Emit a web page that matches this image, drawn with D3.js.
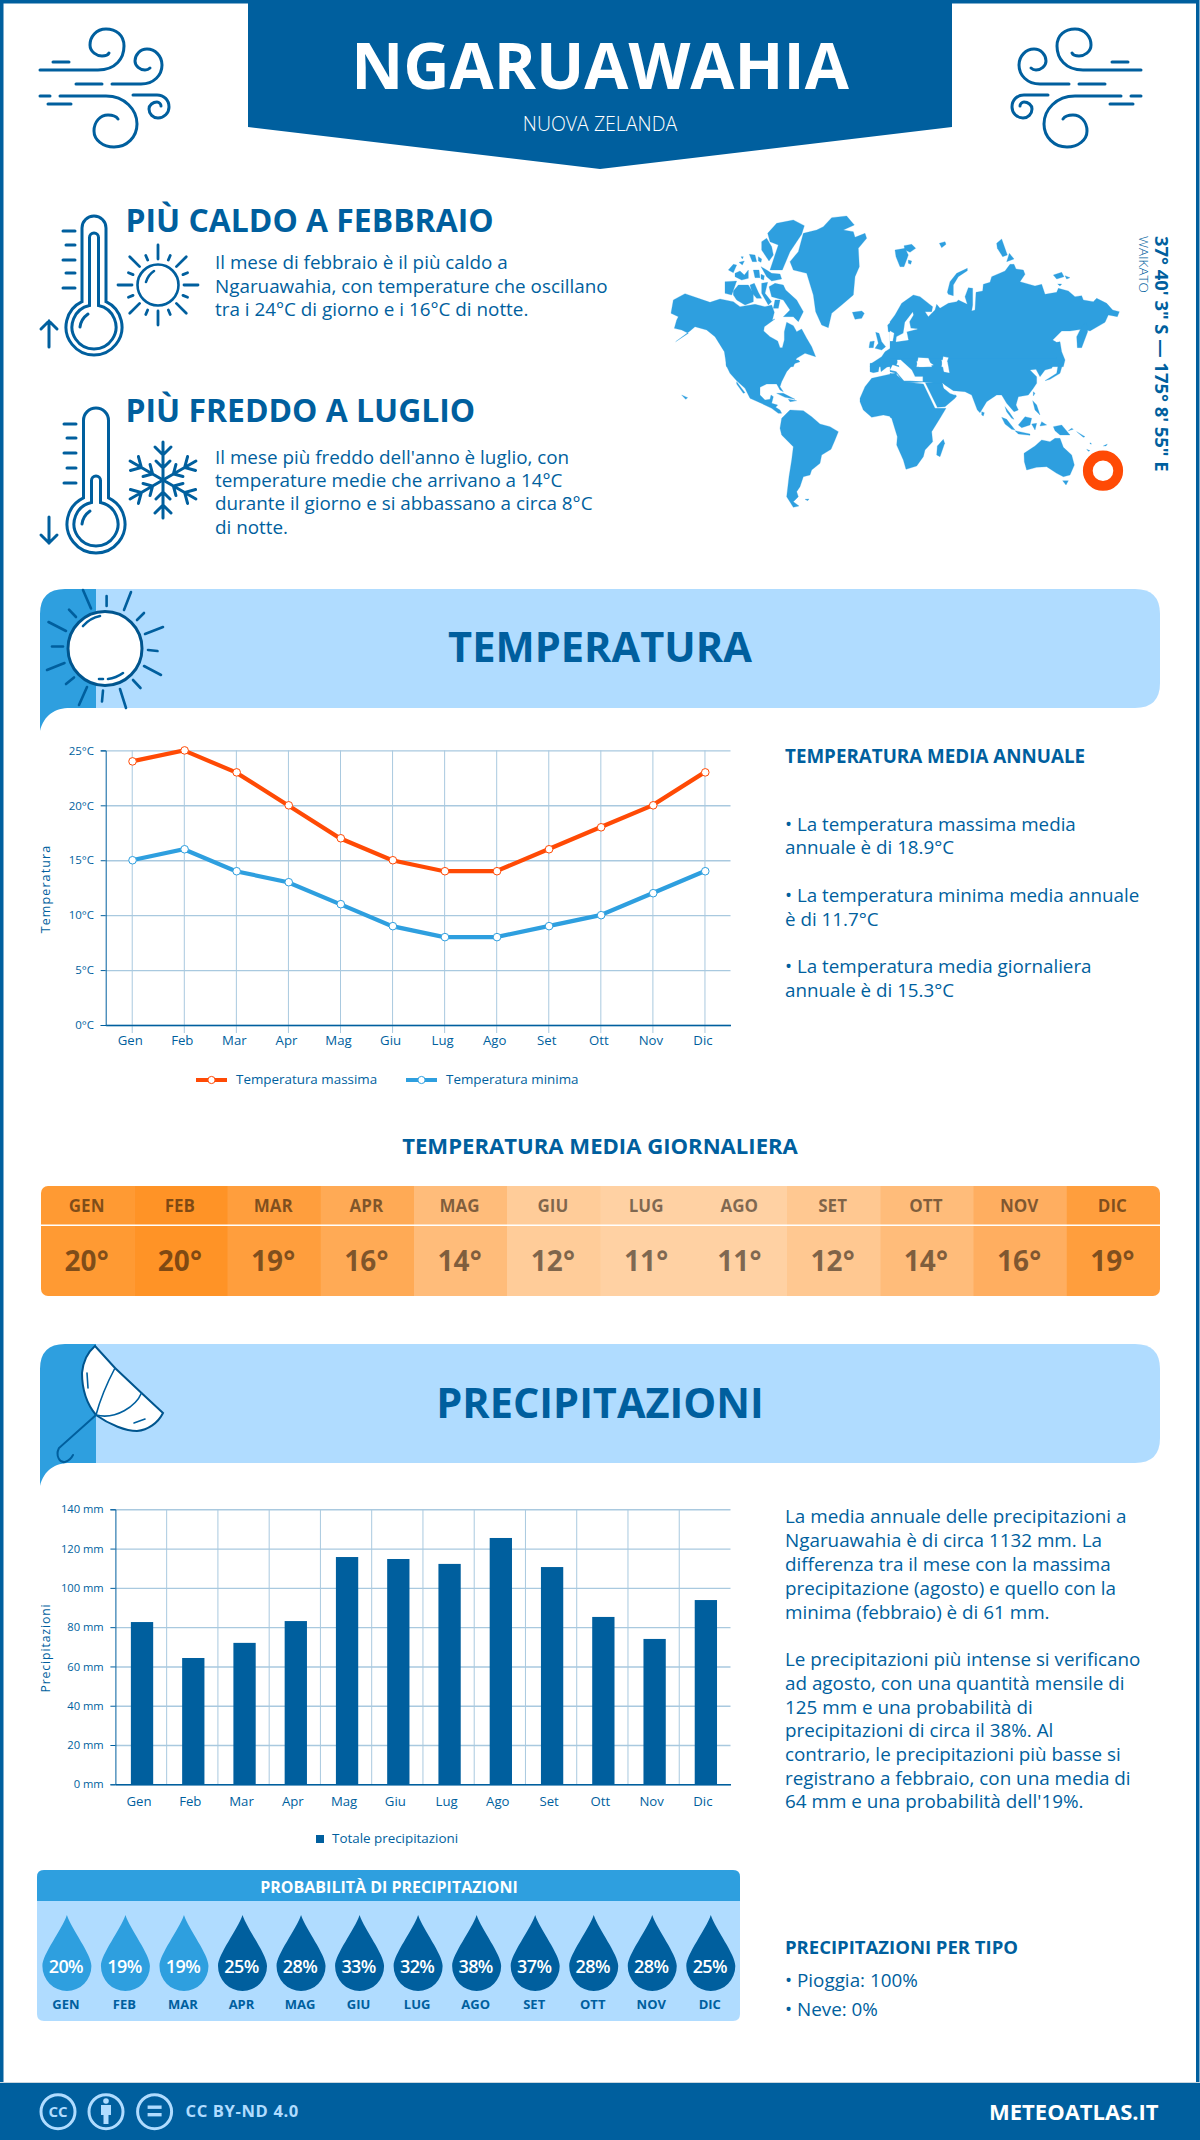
<!DOCTYPE html>
<html>
<head>
<meta charset="utf-8">
<title>Ngaruawahia</title>
<script src="https://cdn.jsdelivr.net/npm/d3@7"></script>
<style>
  html, body { margin: 0; padding: 0; background: #fff; }
  svg { display: block; }
  text { font-family: "Open Sans", sans-serif; }
</style>
</head>
<body>
<div id="chart"></div>
<script>
// chart values
var months = ["Gen", "Feb", "Mar", "Apr", "Mag", "Giu", "Lug", "Ago", "Set", "Ott", "Nov", "Dic"];
var monthsUpper = ["GEN", "FEB", "MAR", "APR", "MAG", "GIU", "LUG", "AGO", "SET", "OTT", "NOV", "DIC"];
var tempMax = [24, 25, 23, 20, 17, 15, 14, 14, 16, 18, 20, 23];
var tempMin = [15, 16, 14, 13, 11, 9, 8, 8, 9, 10, 12, 14];
var tempDaily = [20, 20, 19, 16, 14, 12, 11, 11, 12, 14, 16, 19];
var tempTicks = [0, 5, 10, 15, 20, 25];
var rain = [82.6, 64.3, 72, 83.1, 115.7, 114.7, 112.2, 125.4, 110.6, 85.2, 74, 93.8];
var rainTicks = [0, 20, 40, 60, 80, 100, 120, 140];
var rainProb = [20, 19, 19, 25, 28, 33, 32, 38, 37, 28, 28, 25];

// text blocks
var hotLines = ["Il mese di febbraio è il più caldo a", "Ngaruawahia, con temperature che oscillano", "tra i 24°C di giorno e i 16°C di notte."];
var coldLines = ["Il mese più freddo dell'anno è luglio, con", "temperature medie che arrivano a 14°C", "durante il giorno e si abbassano a circa 8°C", "di notte."];
var tempNotes = ["• La temperatura massima media", "annuale è di 18.9°C", "• La temperatura minima media annuale", "è di 11.7°C", "• La temperatura media giornaliera", "annuale è di 15.3°C"];
var rainNotes = ["La media annuale delle precipitazioni a", "Ngaruawahia è di circa 1132 mm. La", "differenza tra il mese con la massima", "precipitazione (agosto) e quello con la", "minima (febbraio) è di 61 mm.", "Le precipitazioni più intense si verificano", "ad agosto, con una quantità mensile di", "125 mm e una probabilità di", "precipitazioni di circa il 38%. Al", "contrario, le precipitazioni più basse si", "registrano a febbraio, con una media di", "64 mm e una probabilità dell'19%."];

// world map outlines in 4 pieces (3 units = 1px)
var mapNW = [
  [[18,325],[25,285],[60,266],[100,280],[135,292],[165,282],[205,290],[225,305],[270,298],[300,305],[320,300],[328,322],[322,345],[330,342],[298,365],[296,378],[315,395],[338,408],[345,428],[352,428],[358,405],[358,380],[365,352],[385,362],[395,380],[410,372],[425,400],[440,425],[452,455],[420,445],[395,460],[385,485],[185,485],[178,440],[150,395],[125,375],[90,365],[75,378],[32,410],[70,385],[50,375],[28,370],[35,345],[40,335]],
  [[475,65],[500,38],[545,33],[568,60],[535,75],[565,80],[570,97],[600,85],[605,100],[580,130],[583,185],[570,215],[565,270],[530,300],[500,325],[490,368],[470,360],[452,320],[445,270],[425,205],[385,195],[375,170],[400,140],[415,85],[455,75]],
  [[308,85],[335,55],[385,45],[418,62],[410,88],[375,140],[352,195],[315,195],[330,150],[340,120],[315,110]],
  [[305,100],[320,125],[325,150],[312,168],[290,135],[290,110]],
  [[190,195],[205,178],[215,180],[205,203]], [[222,172],[238,168],[232,180]], [[228,155],[235,155],[232,162]],
  [[253,148],[270,150],[275,170],[262,170]], [[280,155],[290,162],[288,172],[280,168]],
  [[210,205],[225,198],[238,210],[250,195],[250,220],[230,225],[210,215]],
  [[265,195],[282,195],[285,218],[270,218]], [[288,208],[298,212],[296,225],[288,222]],
  [[288,185],[305,195],[320,205],[345,207],[350,222],[320,228],[305,215]],
  [[180,230],[215,228],[200,270],[180,265]],
  [[205,258],[220,240],[250,240],[265,265],[265,290],[240,300],[215,285],[205,270]],
  [[255,240],[268,235],[280,262],[290,280],[275,280],[262,265]],
  [[290,235],[308,232],[300,265],[320,290],[310,300],[290,265]],
  [[312,245],[330,235],[355,240],[362,255],[395,285],[415,320],[400,350],[385,335],[355,335],[375,315],[355,285],[320,275]],
  [[330,285],[345,285],[340,310],[325,310]],
  [[562,322],[590,318],[598,325],[590,340],[570,343]],
  [[632,382],[642,385],[650,410],[662,425],[650,435],[630,430],[640,415]],
  [[615,410],[628,408],[625,428],[612,428]],
  [[668,360],[695,335],[695,385],[670,380]],
  [[695,418],[660,440],[650,455],[620,475],[615,485],[695,485]]
];
var mapSW = [
  [[183,0],[400,0],[405,5],[385,12],[365,35],[350,65],[345,80],[355,95],[345,90],[335,72],[305,72],[285,82],[285,105],[300,120],[315,118],[318,105],[325,110],[320,130],[338,135],[332,142],[345,150],[350,160],[340,160],[320,145],[285,128],[255,115],[240,85],[215,62],[195,40],[183,15]],
  [[215,65],[240,98],[235,100],[215,72]],
  [[335,100],[355,100],[390,118],[360,112]], [[370,118],[395,122],[375,125]],
  [[350,175],[375,150],[415,152],[440,170],[465,192],[495,200],[520,215],[510,240],[498,268],[470,285],[465,310],[440,330],[435,345],[415,350],[405,380],[395,395],[400,410],[385,425],[402,438],[385,442],[365,410],[372,350],[380,300],[385,260],[350,225],[345,205]],
  [[420,418],[432,417],[428,422]],
  [[585,115],[600,80],[620,55],[695,38],[695,205],[680,170],[655,165],[620,172],[595,150],[585,125]],
  [[615,10],[645,8],[640,35],[625,38],[615,35]],
  [[645,8],[695,0],[695,8],[665,22],[648,35]],
  [[50,105],[68,113],[62,118]]
];
var mapNE = [
  [[0,485],[0,350],[15,330],[35,295],[70,270],[90,275],[128,305],[125,320],[105,320],[115,335],[135,315],[140,298],[150,310],[175,295],[200,290],[205,285],[232,298],[225,275],[235,248],[248,250],[248,300],[245,318],[255,315],[258,262],[278,258],[280,238],[300,232],[305,215],[345,198],[360,178],[372,178],[378,192],[400,195],[405,208],[390,230],[435,243],[455,238],[465,268],[500,262],[505,250],[535,258],[555,275],[575,272],[580,285],[610,290],[620,280],[650,295],[668,315],[688,320],[682,335],[655,330],[645,352],[600,378],[580,372],[540,378],[515,378],[488,405],[500,412],[510,410],[515,440],[525,465],[520,485]],
  [[590,352],[593,380],[575,428],[562,428],[560,395],[575,365]],
  [[15,135],[45,130],[55,150],[42,185],[30,185],[18,155]], [[42,122],[65,118],[77,130],[60,142],[45,135]], [[55,165],[65,168],[62,178],[55,175]],
  [[148,115],[165,110],[168,118],[155,128]],
  [[172,262],[180,230],[200,205],[232,190],[232,197],[205,215],[190,240],[190,272],[175,268]],
  [[320,115],[335,102],[352,150],[338,155],[322,130]], [[358,145],[372,162],[350,170]],
  [[490,210],[515,202],[522,215],[500,222]], [[525,212],[540,218],[530,222]], [[503,237],[515,237],[510,243]]
];
var mapSE = [
  [[0,-5],[500,-5],[485,25],[465,30],[450,50],[438,28],[420,30],[440,50],[440,70],[430,85],[415,105],[385,110],[378,135],[385,150],[372,155],[350,130],[335,105],[320,105],[290,125],[270,158],[262,150],[245,105],[225,95],[190,92],[160,72],[100,66],[60,68],[42,68],[20,40],[0,35]],
  [[0,40],[20,45],[45,66],[100,72],[135,145],[168,145],[150,175],[125,215],[128,245],[105,270],[100,290],[80,318],[48,328],[40,300],[20,255],[22,230],[5,175],[0,172]],
  [[106,68],[142,142],[165,140],[195,115],[200,108],[190,100],[162,85],[158,68]],
  [[160,238],[164,250],[150,290],[140,285],[142,258]],
  [[402,280],[435,258],[455,240],[480,245],[495,235],[510,235],[520,262],[545,285],[553,315],[540,345],[520,350],[500,340],[470,320],[440,322],[410,330],[403,305]],
  [[518,362],[535,362],[528,375]], [[275,155],[283,158],[280,168],[275,165]],
  [[335,172],[350,178],[375,210],[365,208],[345,192]], [[375,212],[420,222],[420,226],[385,222]],
  [[385,195],[405,170],[425,175],[420,195],[395,203]], [[425,192],[440,190],[435,210]],
  [[490,200],[515,195],[540,225],[510,225],[495,212]], [[428,122],[440,135],[450,165],[435,150]],
  [[345,140],[360,160],[372,178],[365,175],[350,155]],
  [[465,62],[500,40],[505,12],[520,5],[510,40],[480,58]], [[430,95],[435,100],[430,108]],
  [[455,185],[470,195],[450,198]], [[545,205],[550,208],[535,212]], [[560,215],[585,230],[580,232]],
  [[600,248],[605,252],[600,252]], [[590,268],[600,272],[595,274]], [[640,258],[652,252],[648,258]]
];
// inland water painted white on top of the land
var mapNEsea = [
  [[68,322],[45,352],[40,385],[20,395],[18,410],[55,405],[50,380],[82,372],[62,370],[58,350],[70,330]],
  [[0,378],[12,385],[8,408],[0,408]],
  [[25,465],[40,480],[20,480]], [[85,458],[115,460],[125,485],[80,485]], [[160,455],[175,458],[165,485],[155,485]]
];
var mapSEsea = [
  [[0,30],[18,34],[42,62],[60,62],[98,64],[98,50],[75,50],[65,30],[32,0],[22,0],[28,22],[8,15]],
  [[80,5],[108,0],[130,15],[100,20],[88,20]],
  [[155,0],[172,5],[178,38],[162,35]],
  [[158,70],[170,85],[190,95],[195,105],[180,100],[162,85]]
];

var DARK = "#005f9e", MID = "#2e9fdf", PALE = "#b0dcff", RED = "#ff4a05", GRID = "#a9c9df";

var svg = d3.select("#chart").append("svg").attr("width", 1200).attr("height", 2140);
svg.append("rect").attr("width", 1200).attr("height", 2140).attr("fill", "#fff");

function label(parent, str, x, y, size, weight, color, anchor, spacing) {
  return parent.append("text")
    .attr("x", x).attr("y", y)
    .attr("font-size", size).attr("font-weight", weight || 400)
    .attr("fill", color || DARK)
    .attr("text-anchor", anchor || "start")
    .attr("letter-spacing", spacing || 0)
    .text(str);
}

function stroke(parent, d, w) {
  return parent.append("path").attr("d", d).attr("fill", "none")
    .attr("stroke", DARK).attr("stroke-width", w || 3).attr("stroke-linecap", "round");
}

// frame + header
svg.append("rect").attr("x", 1.75).attr("y", 1.75).attr("width", 1196).attr("height", 2136)
  .attr("fill", "none").attr("stroke", DARK).attr("stroke-width", 3.5);
svg.append("path").attr("d", "M248,0 H952 V127 L600,169 L248,127 Z").attr("fill", DARK);
label(svg, "NGARUAWAHIA", 600, 89, 64, 700, "#fff", "middle");
label(svg, "NUOVA ZELANDA", 600, 131, 19.5, 300, "#fff", "middle");

// wind icons, right one is the left one mirrored
function wind(g) {
  stroke(g, "M40,70 H98 C116,70 124,58 124,46 C124,35 116,29 106,29 C96,29 90,37 90,45 C90,52 97,56 102,56 C105,56 108,55 109,53");
  stroke(g, "M53,62 H69");
  stroke(g, "M112,84 H141 C154,84 162,75 162,65 C162,56 155,49 147,49 C140,49 135,55 135,61 C135,66 140,70 145,70 C147,70 149,69 150,68");
  stroke(g, "M76,84 H102");
  stroke(g, "M40,96 H50 M60,96 H106 C125,96 137,110 137,124 C137,137 127,147 114,147 C103,147 94,140 94,131 C94,122 100,115 108,115 C112,115 116,116 118,119");
  stroke(g, "M48,104 H71");
  stroke(g, "M133,95 H157 C164,95 169,100 169,107 C169,113 164,118 158,118 C153,118 149,114 149,109 C149,105 153,102 157,102 C159,102 161,104 161,106");
}
wind(svg.append("g"));
wind(svg.append("g").attr("transform", "translate(1181,0) scale(-1,1)"));

// thermometers
function thermo(g, cx, top, cy, R, hw, innerR, innerHw, innerTop) {
  var j = cy - Math.sqrt(R * R - hw * hw), k = cy - Math.sqrt(innerR * innerR - innerHw * innerHw);
  stroke(g, "M" + (cx - hw) + "," + j + " V" + (top + hw) + " A" + hw + "," + hw + " 0 0 1 " + (cx + hw) + "," + (top + hw) +
    " V" + j + " A" + R + "," + R + " 0 1 1 " + (cx - hw) + "," + j + " Z");
  stroke(g, "M" + (cx - innerHw) + "," + k + " V" + (innerTop + innerHw) + " A" + innerHw + "," + innerHw + " 0 0 1 " + (cx + innerHw) + "," + (innerTop + innerHw) +
    " V" + k + " A" + innerR + "," + innerR + " 0 1 1 " + (cx - innerHw) + "," + k + " Z");
  stroke(g, "M" + (cx - 14) + "," + cy + " Q" + (cx - 13) + "," + (cy - 8) + " " + (cx - 6) + "," + (cy - 13));
}
thermo(svg.append("g"), 94, 216, 327, 28, 12, 22, 4.5, 233);
[231, 245, 260, 273, 288].forEach(function(y, i) { stroke(svg, "M" + (i % 2 ? 66 : 63) + "," + y + " H75"); });
stroke(svg, "M49,347 V321 M41,329 L49,321 L57,329");
thermo(svg.append("g"), 96, 408, 524, 29, 12.5, 22, 4.5, 476);
[424, 438, 453, 468, 483].forEach(function(y, i) { stroke(svg, "M" + (i % 2 ? 67 : 64) + "," + y + " H76"); });
stroke(svg, "M49,517 V543 M41,535 L49,543 L57,535");

// small sun next to first thermometer
var smallSun = svg.append("g").attr("transform", "translate(158,285)");
smallSun.append("circle").attr("r", 20.5).attr("fill", "none").attr("stroke", DARK).attr("stroke-width", 2.6);
stroke(smallSun, "M-12,-3 Q-10,-10 -4,-14", 2.6);
d3.range(0, 360, 22.5).forEach(function(a) {
  var major = a % 45 === 0;
  var r0 = major ? 26 : 27, r1 = major ? 40 : 32;
  var t = a * Math.PI / 180;
  stroke(smallSun, "M" + r0 * Math.cos(t) + "," + r0 * Math.sin(t) + " L" + r1 * Math.cos(t) + "," + r1 * Math.sin(t), 2.8);
});

// snowflake
var flake = svg.append("g").attr("transform", "translate(163,480)");
d3.range(0, 360, 60).forEach(function(a) {
  var arm = flake.append("g").attr("transform", "rotate(" + a + ")");
  stroke(arm, "M0,0 V-38 M-8,-33 L0,-25 L8,-33 M-7,-19 L0,-12 L7,-19", 3);
});

label(svg, "PIÙ CALDO A FEBBRAIO", 125.5, 232, 31.9, 700);
hotLines.forEach(function(s, i) { label(svg, s, 215, [269, 293, 316][i], 18.85); });
label(svg, "PIÙ FREDDO A LUGLIO", 125.5, 422, 31.9, 700);
coldLines.forEach(function(s, i) { label(svg, s, 215, [464, 487, 510, 534][i], 18.85); });

// world map
var mapLine = d3.line().curve(d3.curveLinear);
function mapPiece(x0, y0, polys, fill) {
  svg.append("g").attr("transform", "translate(" + x0 + "," + y0 + ") scale(" + (1 / 3) + ")")
    .selectAll("path").data(polys).enter().append("path")
    .attr("d", function(d) { return mapLine(d) + "Z"; })
    .attr("fill", fill).attr("stroke", fill).attr("stroke-width", 0.8).attr("stroke-linejoin", "round");
}
mapPiece(665, 205, mapNW, MID);
mapPiece(665, 360, mapSW, MID);
mapPiece(890, 205, mapNE, MID);
mapPiece(890, 360, mapSE, MID);
mapPiece(890, 205, mapNEsea, "#fff");
mapPiece(890, 360, mapSEsea, "#fff");
svg.append("circle").attr("cx", 1103).attr("cy", 470.7).attr("r", 15.2).attr("fill", "#fff")
  .attr("stroke", RED).attr("stroke-width", 9.8);

label(svg, "37° 40' 3\" S — 175° 8' 55\" E", 0, 0, 18.4, 700).attr("transform", "translate(1155,236) rotate(90)");
label(svg, "WAIKATO", 0, 0, 13.5, 300).attr("transform", "translate(1139,236) rotate(90)");

// section banners
function banner(y) {
  svg.append("path")
    .attr("d", "M90," + y + " H1135 Q1160," + y + " 1160," + (y + 25) + " V" + (y + 94) + " Q1160," + (y + 119) + " 1135," + (y + 119) + " H90 Z")
    .attr("fill", PALE);
  svg.append("path")
    .attr("d", "M96," + y + " H65 Q40," + y + " 40," + (y + 25) + " V" + (y + 142) + " C44," + (y + 126) + " 55," + (y + 119) + " 70," + (y + 119) + " H96 Z")
    .attr("fill", MID);
}
banner(589);
label(svg, "TEMPERATURA", 600, 662, 41.6, 700, DARK, "middle");
banner(1344);
label(svg, "PRECIPITAZIONI", 600, 1418, 41.5, 700, DARK, "middle");

// big sun on temperature banner
svg.append("circle").attr("cx", 105).attr("cy", 648.5).attr("r", 37).attr("fill", "#fff")
  .attr("stroke", "#00558e").attr("stroke-width", 3);
stroke(svg, "M83,626 Q90,618 100,616", 2.6);
stroke(svg, "M108,679 Q116,678 123,673 M99,679 H103", 2.6);
[[83,590,91,608.5],[106.6,596,106.6,606],[131,592,124,610],[144,613,137,620],[163,627,145,634],[148,650,157.5,651],
 [144,666,161,675],[133,680,140.5,688],[120,689,126,708],[103,690.5,102,701.5],[87,687,79,705],[74,677.4,66,684],
 [64.5,663,47,670],[63,646.5,52,646.5],[66,631,48.5,622],[76,617,69,609.6]].forEach(function(r) {
  stroke(svg, "M" + r[0] + "," + r[1] + " L" + r[2] + "," + r[3], 2.6);
});

// umbrella on precipitation banner
svg.append("path").attr("d", "M95,1346 L115,1368 L141.5,1393 L163,1413 C158,1423 148,1430 137,1431 C126,1431 110,1425 96,1415 C86,1403 82,1390 82,1373 C83,1362 88,1352 95,1346 Z")
  .attr("fill", "#fff").attr("stroke", "#00558e").attr("stroke-width", 2);
stroke(svg, "M115,1368 C106,1385 100,1400 96,1415 M141.5,1393 C136,1406 116,1420 96,1415 M87,1373 L88,1388 M134,1423 L145,1419", 1.6);
stroke(svg, "M96,1415 L59,1448 C55,1456 60,1463 65,1462 C68,1461 71,1459 73,1455", 2);

// temperature chart
var tempX = d3.scalePoint().domain(months).range([105.7, 730.5]).padding(0.5);
var tempY = d3.scaleLinear().domain([0, 25]).range([1025, 750.4]);
var tempChart = svg.append("g");

function styleAxisText(sel, size) {
  sel.selectAll("text").attr("font-size", size).attr("fill", DARK);
}

tempChart.append("g").attr("transform", "translate(0,1025)")
  .call(d3.axisBottom(tempX).tickSize(-274.6).tickFormat(""))
  .call(function(g) { g.select(".domain").remove(); g.selectAll("line").attr("stroke", GRID).attr("y2", 8).attr("y1", -274.6); });
tempChart.append("g").attr("transform", "translate(105.7,0)")
  .call(d3.axisLeft(tempY).tickValues(tempTicks).tickSize(-624.8).tickFormat(""))
  .call(function(g) { g.select(".domain").remove(); g.selectAll("line").attr("stroke", GRID).attr("stroke-width", 1.4); });
tempChart.append("g").attr("transform", "translate(0,1025)")
  .call(d3.axisBottom(tempX).tickSize(0).tickPadding(11))
  .call(styleAxisText, 13.2)
  .call(function(g) { g.select(".domain").attr("stroke", DARK).attr("stroke-width", 1.5); g.selectAll("text").attr("dx", -2); });
tempChart.append("g").attr("transform", "translate(105.7,0)")
  .call(d3.axisLeft(tempY).tickValues(tempTicks).tickSize(5).tickPadding(6.7).tickFormat(function(d) { return d + "°C"; }))
  .call(styleAxisText, 11.5)
  .call(function(g) { g.selectAll("line,.domain").attr("stroke", DARK); });
label(tempChart, "Temperatura", 0, 0, 12.5, 400, DARK, "middle", 1.1).attr("transform", "translate(50,889) rotate(-90)");

var tempLine = d3.line().x(function(d, i) { return tempX(months[i]); }).y(function(d) { return tempY(d); });
[[tempMax, RED], [tempMin, MID]].forEach(function(s) {
  tempChart.append("path").attr("d", tempLine(s[0])).attr("fill", "none").attr("stroke", s[1]).attr("stroke-width", 4.2);
  tempChart.selectAll(null).data(s[0]).enter().append("circle")
    .attr("cx", function(d, i) { return tempX(months[i]) + 0.8; })
    .attr("cy", function(d) { return tempY(d); })
    .attr("r", 3.8).attr("fill", "#fff").attr("stroke", s[1]).attr("stroke-width", 1);
});

// temperature legend
[[196, "Temperatura massima", RED, 236], [406, "Temperatura minima", MID, 446]].forEach(function(l) {
  tempChart.append("rect").attr("x", l[0]).attr("y", 1078).attr("width", 31).attr("height", 4).attr("fill", l[2]);
  tempChart.append("circle").attr("cx", l[0] + 15.5).attr("cy", 1080).attr("r", 3.6).attr("fill", "#fff").attr("stroke", l[2]);
  label(tempChart, l[1], l[3], 1084, 13.4);
});

label(svg, "TEMPERATURA MEDIA ANNUALE", 785, 763, 18.8, 700);
tempNotes.forEach(function(s, i) { label(svg, s, 785, [830.7, 854, 901.7, 926, 973, 996.7][i], 18.8); });

// daily temperature strip, shade follows the unrounded mean of max and min
label(svg, "TEMPERATURA MEDIA GIORNALIERA", 600, 1154, 22.1, 700, DARK, "middle");
var stripX = d3.scaleBand().domain(months).range([41, 1160]);
var stripColor = d3.scaleLinear().domain([11, 12, 14, 16, 16.5, 18.5, 19.5, 20.5])
  .range(["#ffd1a3", "#ffcc99", "#ffbc7a", "#ffae60", "#ffaa55", "#ff9e3d", "#ff9a33", "#ff9326"]);
svg.append("clipPath").attr("id", "stripClip").append("rect")
  .attr("x", 41).attr("y", 1186).attr("width", 1119).attr("height", 110).attr("rx", 7);
var strip = svg.append("g").attr("clip-path", "url(#stripClip)");
strip.selectAll("rect").data(tempDaily).enter().append("rect")
  .attr("x", function(d, i) { return stripX(months[i]); })
  .attr("y", 1186).attr("width", stripX.bandwidth() + 0.5).attr("height", 110)
  .attr("fill", function(d, i) { return stripColor((tempMax[i] + tempMin[i]) / 2); });
strip.append("rect").attr("x", 41).attr("y", 1224.5).attr("width", 1119).attr("height", 1.5).attr("fill", "#fff");
tempDaily.forEach(function(d, i) {
  var cx = stripX(months[i]) + stripX.bandwidth() / 2 - 1;
  label(svg, monthsUpper[i], cx, 1212, 17, 700, "#000", "middle").attr("fill-opacity", 0.5);
  label(svg, d + "°", cx, 1271, 28, 700, "#000", "middle").attr("fill-opacity", 0.5);
});

// precipitation chart
var rainX = d3.scaleBand().domain(months).range([115.4, 730.5]).paddingInner(0.565).paddingOuter(0.2825);
var rainY = d3.scaleLinear().domain([0, 140]).range([1784.3, 1509.3]);
var rainChart = svg.append("g");
rainChart.selectAll("line.vgrid").data(months.slice(1)).enter().append("line").attr("class", "vgrid")
  .attr("x1", function(m) { return rainX(m) + rainX.bandwidth() / 2 - rainX.step() / 2; })
  .attr("x2", function(m) { return rainX(m) + rainX.bandwidth() / 2 - rainX.step() / 2; })
  .attr("y1", rainY(140)).attr("y2", rainY(0)).attr("stroke", GRID);
rainChart.append("g").attr("transform", "translate(115.4,0)")
  .call(d3.axisLeft(rainY).tickValues(rainTicks).tickSize(-615.1).tickFormat(""))
  .call(function(g) { g.select(".domain").remove(); g.selectAll("line").attr("stroke", GRID).attr("stroke-width", 1.4); });
rainChart.selectAll("rect.bar").data(rain).enter().append("rect").attr("class", "bar")
  .attr("x", function(d, i) { return rainX(months[i]) + 1; })
  .attr("y", function(d) { return rainY(d); })
  .attr("width", rainX.bandwidth())
  .attr("height", function(d) { return rainY(0) - rainY(d); })
  .attr("fill", DARK);
rainChart.append("g").attr("transform", "translate(0,1784.3)")
  .call(d3.axisBottom(rainX).tickSize(0).tickPadding(12))
  .call(styleAxisText, 13.2)
  .call(function(g) { g.select(".domain").attr("stroke", DARK).attr("stroke-width", 1.5); g.selectAll("text").attr("dx", -2); });
rainChart.append("g").attr("transform", "translate(115.4,0)")
  .call(d3.axisLeft(rainY).tickValues(rainTicks).tickSize(5).tickPadding(6.7).tickFormat(function(d) { return d + " mm"; }))
  .call(styleAxisText, 11.2)
  .call(function(g) { g.selectAll("line,.domain").attr("stroke", DARK); });
label(rainChart, "Precipitazioni", 0, 0, 12.2, 400, DARK, "middle", 0.9).attr("transform", "translate(50,1648) rotate(-90)");
rainChart.append("rect").attr("x", 316).attr("y", 1835).attr("width", 8).attr("height", 8).attr("fill", DARK);
label(rainChart, "Totale precipitazioni", 332, 1843, 13.4);

rainNotes.forEach(function(s, i) {
  label(svg, s, 785, [1523.4, 1546.5, 1570.5, 1594.5, 1618.5, 1665.6, 1689.6, 1713.6, 1736.7, 1760.7, 1784.7, 1808.3][i], 18.85);
});
label(svg, "PRECIPITAZIONI PER TIPO", 785, 1954, 18.5, 700);
label(svg, "• Pioggia: 100%", 785, 1987, 18.85);
label(svg, "• Neve: 0%", 785, 2016, 18.85);

// rain probability drops
svg.append("path").attr("d", "M44,1870 H733 Q740,1870 740,1877 V2014 Q740,2021 733,2021 H44 Q37,2021 37,2014 V1877 Q37,1870 44,1870 Z").attr("fill", PALE);
svg.append("path").attr("d", "M44,1870 H733 Q740,1870 740,1877 V1901 H37 V1877 Q37,1870 44,1870 Z").attr("fill", MID);
label(svg, "PROBABILITÀ DI PRECIPITAZIONI", 389, 1893, 16, 700, "#fff", "middle");
var dropX = d3.scalePoint().domain(months).range([66.9, 710.8]);
var dropShape = "M0,-51 C5,-36 24.5,-12 24.5,0 A24.5,25 0 0 1 -24.5,0 C-24.5,-12 -5,-36 0,-51 Z";
svg.selectAll("path.drop").data(rainProb).enter().append("path").attr("class", "drop")
  .attr("d", dropShape)
  .attr("transform", function(d, i) { return "translate(" + dropX(months[i]) + ",1966)"; })
  .attr("fill", function(d) { return d < 25 ? MID : DARK; });
rainProb.forEach(function(d, i) {
  label(svg, d + "%", dropX(months[i]) - 1, 1973, 18, 600, "#fff", "middle", -0.6);
  label(svg, monthsUpper[i], dropX(months[i]) - 1, 2009, 13, 700, DARK, "middle");
});

// footer
svg.append("rect").attr("y", 2082).attr("width", 1200).attr("height", 1).attr("fill", "#c9d6df");
svg.append("rect").attr("y", 2083).attr("width", 1200).attr("height", 57).attr("fill", DARK);
[58, 106, 154.6].forEach(function(cx) {
  svg.append("circle").attr("cx", cx).attr("cy", 2111.7).attr("r", 17).attr("fill", "none").attr("stroke", PALE).attr("stroke-width", 3);
});
label(svg, "CC", 58, 2117, 15, 700, PALE, "middle");
svg.append("circle").attr("cx", 106).attr("cy", 2101).attr("r", 2.8).attr("fill", PALE);
svg.append("path").attr("d", "M101,2105 H111 V2115 H108.5 V2124 H103.5 V2115 H101 Z").attr("fill", PALE);
svg.append("rect").attr("x", 147.6).attr("y", 2105.5).attr("width", 14).attr("height", 3.4).attr("fill", PALE);
svg.append("rect").attr("x", 147.6).attr("y", 2113).attr("width", 14).attr("height", 3.4).attr("fill", PALE);
label(svg, "CC BY-ND 4.0", 185.6, 2117, 16.6, 700, PALE, "start", 0.6);
label(svg, "METEOATLAS.IT", 989, 2120, 22, 700, "#fff");
</script>
</body>
</html>
